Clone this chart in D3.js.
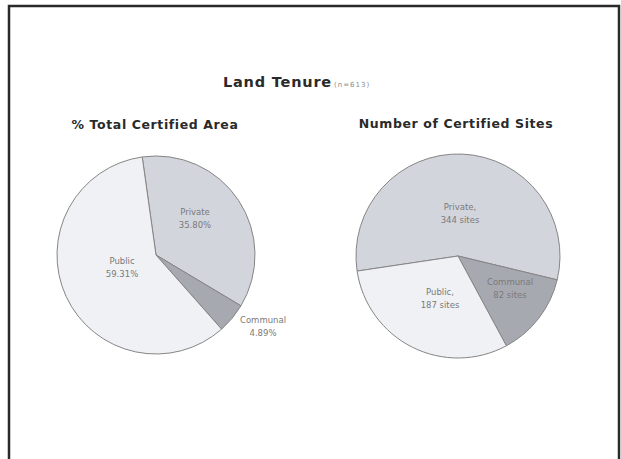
<!DOCTYPE html>
<html>
<head>
<meta charset="utf-8">
<script src="https://cdn.jsdelivr.net/npm/d3@7"></script>
<style>
  html, body { margin: 0; padding: 0; background: #fff; }
  svg { display: block; }
  text { font-family: "DejaVu Sans", "Liberation Sans", Arial, sans-serif; }
</style>
</head>
<body>
<svg id="chart" width="621" height="459"></svg>
<script>
// Land tenure breakdown
const categories = ["Private", "Communal", "Public"];
const areaShare = [35.80, 4.89, 59.31];        // % of total certified area
const siteCounts = [344, 82, 187];             // number of certified sites
const areaLabels = ["Private\n35.80%", "Communal\n4.89%", "Public\n59.31%"];
const siteLabels = ["Private,\n344 sites", "Communal\n82 sites", "Public,\n187 sites"];

const fills = { Private: "#d3d5dd", Communal: "#a7a9b1", Public: "#eff1f5" };

const svg = d3.select("#chart");

// frame
svg.append("rect")
  .attr("x", 9).attr("y", 6).attr("width", 610).attr("height", 470)
  .attr("fill", "#fff").attr("stroke", "#2a2a2a").attr("stroke-width", 2.5);

// main title
const title = svg.append("text").attr("x", 223).attr("y", 87)
  .attr("font-size", 14.5).attr("font-weight", "bold").attr("fill", "#2a2a2a")
  .attr("letter-spacing", 0.8);
title.append("tspan").text("Land Tenure");
title.append("tspan").attr("font-size", 7).attr("font-weight", "normal")
  .attr("letter-spacing", 1).attr("fill", "#8a8a8a").attr("dx", 2).text("(n=613)");

function drawPie(cx, cy, r, values, labels, startDeg, heading, headingX, headingY, labelPos) {
  svg.append("text").attr("x", headingX).attr("y", headingY)
    .attr("text-anchor", "middle").attr("font-size", 12.5).attr("font-weight", "bold")
    .attr("letter-spacing", 0.6).attr("fill", "#2a2a2a").text(heading);

  const start = startDeg * Math.PI / 180;
  const pie = d3.pie().sort(null).value(d => d.v)
    .startAngle(start).endAngle(start + 2 * Math.PI);
  const data = categories.map((c, i) => ({ c, v: values[i], label: labels[i], pos: labelPos[i] }));
  const arcs = pie(data);
  const arc = d3.arc().innerRadius(0).outerRadius(r);

  const g = svg.append("g").attr("transform", `translate(${cx},${cy})`);
  g.selectAll("path").data(arcs).join("path")
    .attr("d", arc)
    .attr("fill", d => fills[d.data.c])
    .attr("stroke", "#858585").attr("stroke-width", 1);

  g.selectAll("text.lbl").data(arcs).join("text")
    .attr("class", "lbl")
    .attr("text-anchor", "middle")
    .attr("font-size", 8.5).attr("fill", "#7a7a7a")
    .each(function(d) {
      const [dx, dy] = d.data.pos;
      const lines = d.data.label.split("\n");
      const t = d3.select(this);
      lines.forEach((ln, i) => {
        t.append("tspan").attr("x", dx).attr("y", dy + i * 13).text(ln);
      });
    });
}

drawPie(156, 255, 99, areaShare, areaLabels, -8,
  "% Total Certified Area", 155, 129,
  [[39, -40], [107, 68], [-34, 9]]);

drawPie(458, 256, 102, siteCounts, siteLabels, -98.5,
  "Number of Certified Sites", 456, 128,
  [[2, -46], [52, 29], [-18, 39]]);
</script>
</body>
</html>
